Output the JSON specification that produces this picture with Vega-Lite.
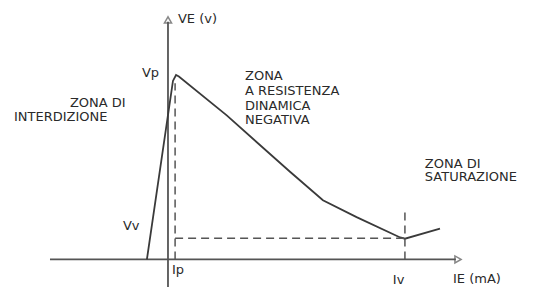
{
  "$schema": "https://vega.github.io/schema/vega-lite/v6.json",
  "width": 535,
  "height": 291,
  "autosize": {"type": "fit", "contains": "padding"},
  "padding": 0,
  "background": "white",
  "config": {"view": {"stroke": null}},
  "datasets": {
    "lines": [
      {"series": "x-axis", "style": "axis", "ord": 1, "IE": -4.98, "VE": 0},
      {"series": "x-axis", "style": "axis", "ord": 2, "IE": 12.15, "VE": 0},
      {"series": "y-axis", "style": "axis", "ord": 1, "IE": 0, "VE": -1.5},
      {"series": "y-axis", "style": "axis", "ord": 2, "IE": 0, "VE": 12.96},
      {"series": "curve", "style": "curve", "ord": 1, "IE": -0.89, "VE": 0},
      {"series": "curve", "style": "curve", "ord": 2, "IE": 0.21, "VE": 9.73},
      {"series": "curve", "style": "curve", "ord": 3, "IE": 0.34, "VE": 10.05},
      {"series": "curve", "style": "curve", "ord": 4, "IE": 0.46, "VE": 9.97},
      {"series": "curve", "style": "curve", "ord": 5, "IE": 2.48, "VE": 7.85},
      {"series": "curve", "style": "curve", "ord": 6, "IE": 5.15, "VE": 4.78},
      {"series": "curve", "style": "curve", "ord": 7, "IE": 6.54, "VE": 3.23},
      {"series": "curve", "style": "curve", "ord": 8, "IE": 7.96, "VE": 2.31},
      {"series": "curve", "style": "curve", "ord": 9, "IE": 9.8, "VE": 1.2},
      {"series": "curve", "style": "curve", "ord": 10, "IE": 10.0, "VE": 1.13},
      {"series": "curve", "style": "curve", "ord": 11, "IE": 11.48, "VE": 1.68},
      {"series": "Ip", "style": "dash", "ord": 1, "IE": 0.3, "VE": 0},
      {"series": "Ip", "style": "dash", "ord": 2, "IE": 0.3, "VE": 9.6},
      {"series": "Iv", "style": "dash", "ord": 1, "IE": 10.0, "VE": 0},
      {"series": "Iv", "style": "dash", "ord": 2, "IE": 10.0, "VE": 2.6},
      {"series": "Vv", "style": "dash", "ord": 1, "IE": 0.3, "VE": 1.15},
      {"series": "Vv", "style": "dash", "ord": 2, "IE": 10.0, "VE": 1.15}
    ],
    "arrows": [
      {"IE": 12.24, "VE": 0, "shape": "triangle-right"},
      {"IE": 0, "VE": 13.06, "shape": "triangle-up"}
    ],
    "labels": [
      {"text": "VE (v)", "IE": 0.42, "VE": 12.9},
      {"text": "Vp", "IE": -1.1, "VE": 9.95},
      {"text": "Vv", "IE": -1.9, "VE": 1.61},
      {"text": "Ip", "IE": 0.17, "VE": -0.81},
      {"text": "Iv", "IE": 9.49, "VE": -1.34},
      {"text": "IE (mA)", "IE": 12.03, "VE": -1.29},
      {"text": "ZONA DI", "IE": -4.14, "VE": 8.33},
      {"text": "INTERDIZIONE", "IE": -6.5, "VE": 7.53},
      {"text": "ZONA", "IE": 3.25, "VE": 9.78},
      {"text": "A RESISTENZA", "IE": 3.25, "VE": 8.98},
      {"text": "DINAMICA", "IE": 3.25, "VE": 8.17},
      {"text": "NEGATIVA", "IE": 3.25, "VE": 7.37},
      {"text": "ZONA DI", "IE": 10.84, "VE": 5.0},
      {"text": "SATURAZIONE", "IE": 10.84, "VE": 4.25}
    ]
  },
  "encoding": {
    "x": {"field": "IE", "type": "quantitative", "scale": {"domain": [-7.09, 15.49], "nice": false, "zero": false}, "axis": null},
    "y": {"field": "VE", "type": "quantitative", "scale": {"domain": [-1.5, 14.14], "nice": false, "zero": false}, "axis": null}
  },
  "layer": [
    {
      "data": {"name": "lines"},
      "transform": [{"filter": "datum.style === 'axis'"}],
      "mark": {"type": "line", "color": "#555555", "strokeWidth": 1.8},
      "encoding": {"detail": {"field": "series"}, "order": {"field": "ord"}}
    },
    {
      "data": {"name": "lines"},
      "transform": [{"filter": "datum.style === 'curve'"}],
      "mark": {"type": "line", "color": "#3a3a3a", "strokeWidth": 1.8},
      "encoding": {"detail": {"field": "series"}, "order": {"field": "ord"}}
    },
    {
      "data": {"name": "lines"},
      "transform": [{"filter": "datum.style === 'dash'"}],
      "mark": {"type": "line", "color": "#555555", "strokeWidth": 1.5, "strokeDash": [8, 5]},
      "encoding": {"detail": {"field": "series"}, "order": {"field": "ord"}}
    },
    {
      "data": {"name": "arrows"},
      "mark": {"type": "point", "filled": false, "color": "#555555", "strokeWidth": 1.5, "size": 50},
      "encoding": {"shape": {"field": "shape", "type": "nominal", "scale": null}}
    },
    {
      "data": {"name": "labels"},
      "mark": {"type": "text", "align": "left", "baseline": "alphabetic", "font": "DejaVu Sans", "fontSize": 13, "color": "#2a2a2a"},
      "encoding": {"text": {"field": "text"}}
    }
  ]
}
